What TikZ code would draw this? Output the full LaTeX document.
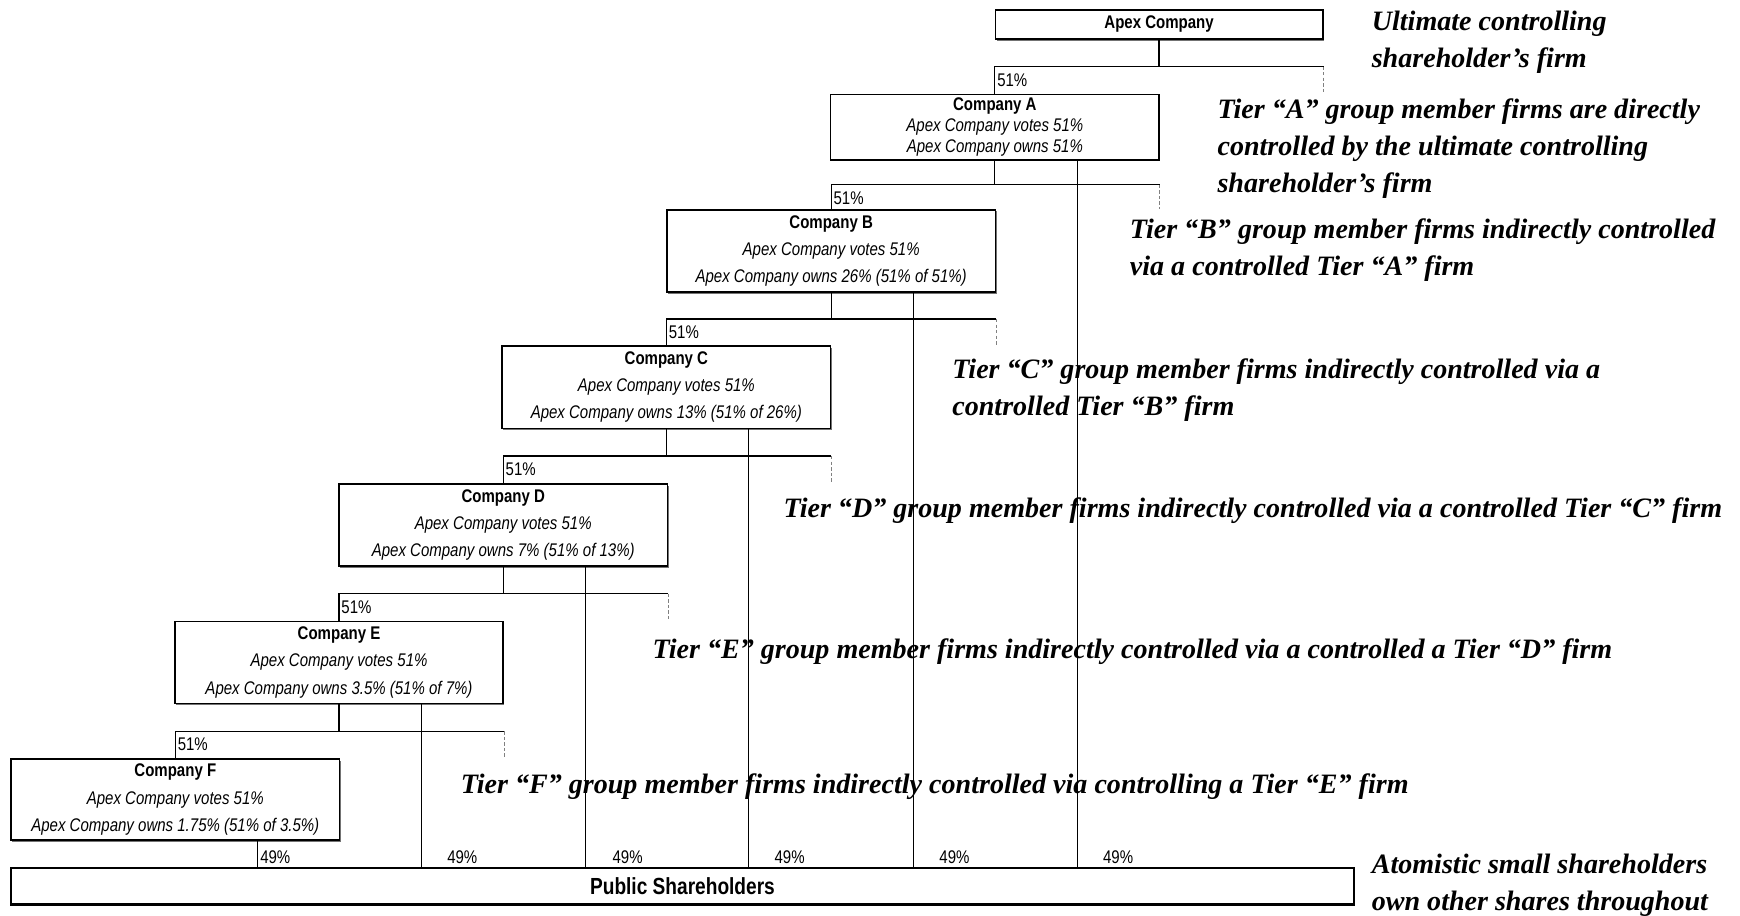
\documentclass[tikz,border=0pt]{standalone}
\usepackage{fontspec}
\newfontfamily\boxfont[FakeStretch=0.82]{Liberation Sans}
\newfontfamily\notefont{Liberation Serif}
\usetikzlibrary{calc,shadows}

\tikzset{
  firm/.style={draw, fill=white, line width=1.4pt, minimum width=296pt, minimum height=74pt,
    inner sep=0pt, align=center, font=\boxfont\fontsize{16.5}{24.5}\selectfont,
    drop shadow={shadow xshift=1pt, shadow yshift=-1.5pt, fill=black, opacity=.55}},
  link/.style={line width=1.1pt},
  stub/.style={line width=0.9pt, gray, densely dashed},
  pct/.style={font=\boxfont\fontsize{16.5}{18}\selectfont, inner sep=2pt},
  note/.style={font=\notefont\bfseries\itshape\fontsize{25.3}{33}\selectfont, align=left,
    anchor=west, inner sep=0pt}
}

\begin{document}
\begin{tikzpicture}[x=1pt,y=-1pt]
\useasboundingbox (0,0) rectangle (1568,825);

% the chain of firms
\node[firm, minimum width=295pt, minimum height=26pt] (apex) at (1044.5,22) {\textbf{Apex Company}};
\node[firm, minimum height=59pt, font=\boxfont\fontsize{16.5}{19}\selectfont] (A) at (896.5,114.5)
  {\textbf{Company A}\\\textit{Apex Company votes 51\%}\\\textit{Apex Company owns 51\%}};
\node[firm] (B) at (749,226)
  {\textbf{Company B}\\\textit{Apex Company votes 51\%}\\\textit{Apex Company owns 26\% (51\% of 51\%)}};
\node[firm] (C) at (600.5,349)
  {\textbf{Company C}\\\textit{Apex Company votes 51\%}\\\textit{Apex Company owns 13\% (51\% of 26\%)}};
\node[firm] (D) at (453.5,473)
  {\textbf{Company D}\\\textit{Apex Company votes 51\%}\\\textit{Apex Company owns 7\% (51\% of 13\%)}};
\node[firm] (E) at (305.5,597)
  {\textbf{Company E}\\\textit{Apex Company votes 51\%}\\\textit{Apex Company owns 3.5\% (51\% of 7\%)}};
\node[firm, minimum height=73pt] (F) at (158,720.5)
  {\textbf{Company F}\\\textit{Apex Company votes 51\%}\\\textit{Apex Company owns 1.75\% (51\% of 3.5\%)}};
\node[firm, minimum width=1210pt, minimum height=33pt, line width=2.2pt,
  font=\boxfont\bfseries\fontsize{21}{24}\selectfont] (pub) at (615,798.5) {Public Shareholders};

% 51% control links
\foreach \p/\c in {apex/A,A/B,B/C,C/D,D/E,E/F}{
  \coordinate (bar) at ($(\p.south)!.5!(\c.north)$);
  \draw[link] (\p.south) -- (\p.south |- bar);
  \draw[link] (\c.north) -- (\c.north |- bar) -- (\p.east |- bar);
  \draw[stub] (\p.east |- bar) -- (\p.east |- \c.north);
  \node[pct, anchor=north west, yshift=-4pt] at (\c.north |- bar) {51\%};
}

% 49% held by the public
\foreach \c/\dx in {A/21,B/21,C/21,D/22,E/21,F/0}{
  \coordinate (own) at ($(\c.south)!.5!(\c.south east)$);
  \draw[link] (own) -- (own |- pub.north);
  \node[pct, anchor=south west, xshift=\dx pt] at (own |- pub.north) {49\%};
}

% tier notes
\node[note] (ult) at (1236,38) {Ultimate controlling\\shareholder’s firm};
\node[note] (tierA) at (1097,134) {Tier “A” group member firms are directly\\controlled by the ultimate controlling\\shareholder’s firm};
\node[note] (tierB) at (1018,225.5) {Tier “B” group member firms indirectly controlled\\via a controlled Tier “A” firm};
\node[note] (tierC) at (858,351.5) {Tier “C” group member firms indirectly controlled via a\\controlled Tier “B” firm};
\node[note] (tierD) at (706,460) {Tier “D” group member firms indirectly controlled via a controlled Tier “C” firm};
\node[note] (tierE) at (588,587) {Tier “E” group member firms indirectly controlled via a controlled a Tier “D” firm};
\node[note] (tierF) at (415,709) {Tier “F” group member firms indirectly controlled via controlling a Tier “E” firm};
\node[note] (atom) at (1236,797.5) {Atomistic small shareholders\\own other shares throughout};
\end{tikzpicture}
\end{document}
